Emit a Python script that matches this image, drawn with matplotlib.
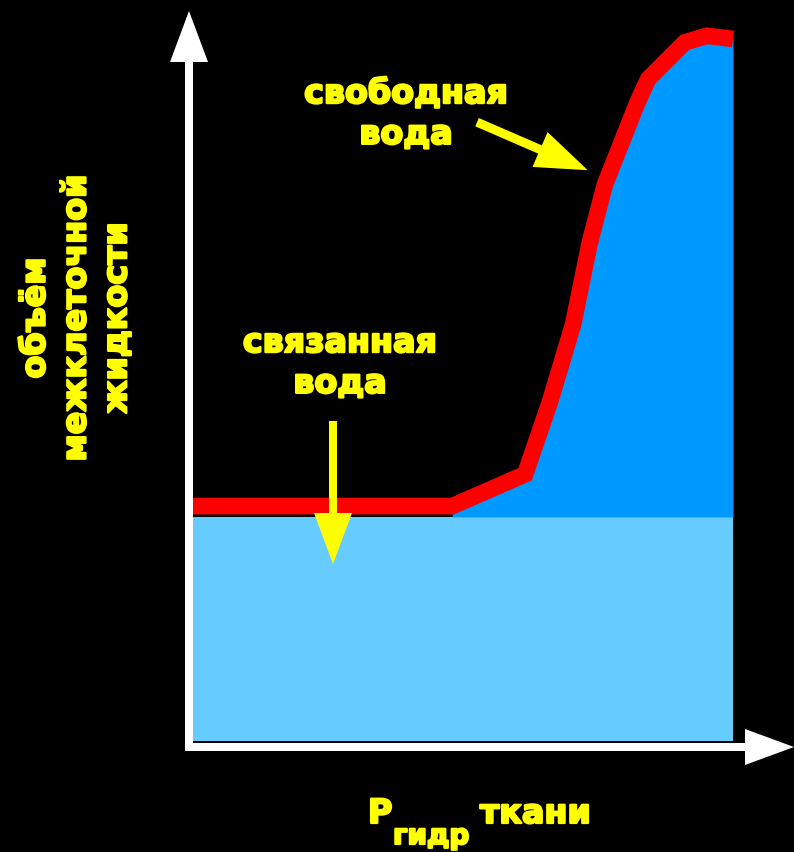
"""
Объём межклеточной жидкости в зависимости от гидростатического давления ткани.
"""

import numpy as np
import matplotlib
matplotlib.use("Agg")
import matplotlib.pyplot as plt
from matplotlib.patches import FancyArrow
import matplotlib.patheffects as pe

# --- данные (условные единицы) ---
P_TISSUE = [0.0, 4.80, 6.15, 6.61, 7.04, 7.35, 7.63, 8.22, 8.43, 9.11, 9.52, 10.0]
V_FLUID  = [4.35, 4.35, 4.94, 6.28, 7.72, 9.24, 10.31, 11.80, 12.26, 12.94, 13.06, 13.0]
BOUND_LEVEL = 4.15
P_MAX = 10.0

LABEL_FREE  = "свободная\nвода"
LABEL_BOUND = "связанная\nвода"
Y_LABEL     = "объём\nмежклеточной\nжидкости"

# --- стиль ---
BG        = "black"
YELLOW    = "#FFFF00"
RED       = "#FF0000"
BLUE_FREE = "#0099FF"
BLUE_BOUND = "#66CCFF"
PX = 54.0          # пикселей на единицу
W, H = 794, 853
X0, Y0 = 193, 742  # начало координат в пикселях


def main():
    fig = plt.figure(figsize=(W / 100, H / 100), dpi=100, facecolor=BG)
    ax = fig.add_axes([0, 0, 1, 1])
    ax.set_facecolor(BG)
    ax.set_xlim(-X0 / PX, (W - X0) / PX)
    ax.set_ylim((Y0 - H) / PX, Y0 / PX)
    ax.axis("off")

    x = np.array(P_TISSUE)
    y = np.array(V_FLUID)

    # связанная вода
    ax.fill_between([0, P_MAX], 0, BOUND_LEVEL, color=BLUE_BOUND, lw=0, zorder=1)
    # свободная вода
    ax.fill_between(x[1:], BOUND_LEVEL, y[1:], color=BLUE_FREE, lw=0, zorder=1)
    ax.plot(x, y, color=RED, lw=12, solid_capstyle="butt",
            solid_joinstyle="miter", zorder=3)

    # оси со стрелками
    ax_x, ax_y = -4 / PX, -6 / PX
    ax.add_patch(FancyArrow(ax_x, ax_y - 4 / PX, 0, Y0 / PX - 12 / PX - ax_y + 4 / PX,
                            width=8 / PX, head_width=38 / PX, head_length=51 / PX,
                            length_includes_head=True, color="white", lw=0, zorder=4))
    ax.add_patch(FancyArrow(ax_x - 4 / PX, ax_y, (W - X0) / PX - ax_x + 4 / PX, 0,
                            width=8 / PX, head_width=36 / PX, head_length=49 / PX,
                            length_includes_head=True, color="white", lw=0, zorder=4))

    # стрелки-указатели
    ax.add_patch(FancyArrow(2.593, 5.926, 0, 3.278 - 5.926,
                            width=8 / PX, head_width=38 / PX, head_length=51 / PX,
                            length_includes_head=True, color=YELLOW, lw=0, zorder=5))
    ax.add_patch(FancyArrow(5.26, 11.46, 7.31 - 5.26, 10.57 - 11.46,
                            width=9 / PX, head_width=38 / PX, head_length=52 / PX,
                            length_includes_head=True, color=YELLOW, lw=0, zorder=5))

    # жирный шрифт + обводка, чтобы приблизиться к Verdana Bold
    heavy = [pe.withStroke(linewidth=1.6, foreground=YELLOW)]
    font = dict(color=YELLOW, fontweight="bold", family="DejaVu Sans", path_effects=heavy)
    ax.text((406 - X0) / PX, (Y0 - 115) / PX, LABEL_FREE, fontsize=24,
            ha="center", va="center", linespacing=1.3, **font)
    ax.text((340 - X0) / PX, (Y0 - 364) / PX, LABEL_BOUND, fontsize=24,
            ha="center", va="center", linespacing=1.3, **font)
    ax.text((76 - X0) / PX, (Y0 - 319) / PX, Y_LABEL, fontsize=24, rotation=90,
            ha="center", va="center", multialignment="center", linespacing=1.3, **font)

    # подпись оси X: P с подстрочным «гидр»
    ax.text((368 - X0) / PX, (Y0 - 824) / PX, "P", fontsize=24, ha="left", va="baseline", **font)
    ax.text((393 - X0) / PX, (Y0 - 845) / PX, "гидр", fontsize=20, ha="left", va="baseline", **font)
    ax.text((480 - X0) / PX, (Y0 - 824) / PX, "ткани", fontsize=24, ha="left", va="baseline", **font)

    fig.savefig("out.png", dpi=100, facecolor=BG)
    plt.close(fig)


if __name__ == "__main__":
    main()
